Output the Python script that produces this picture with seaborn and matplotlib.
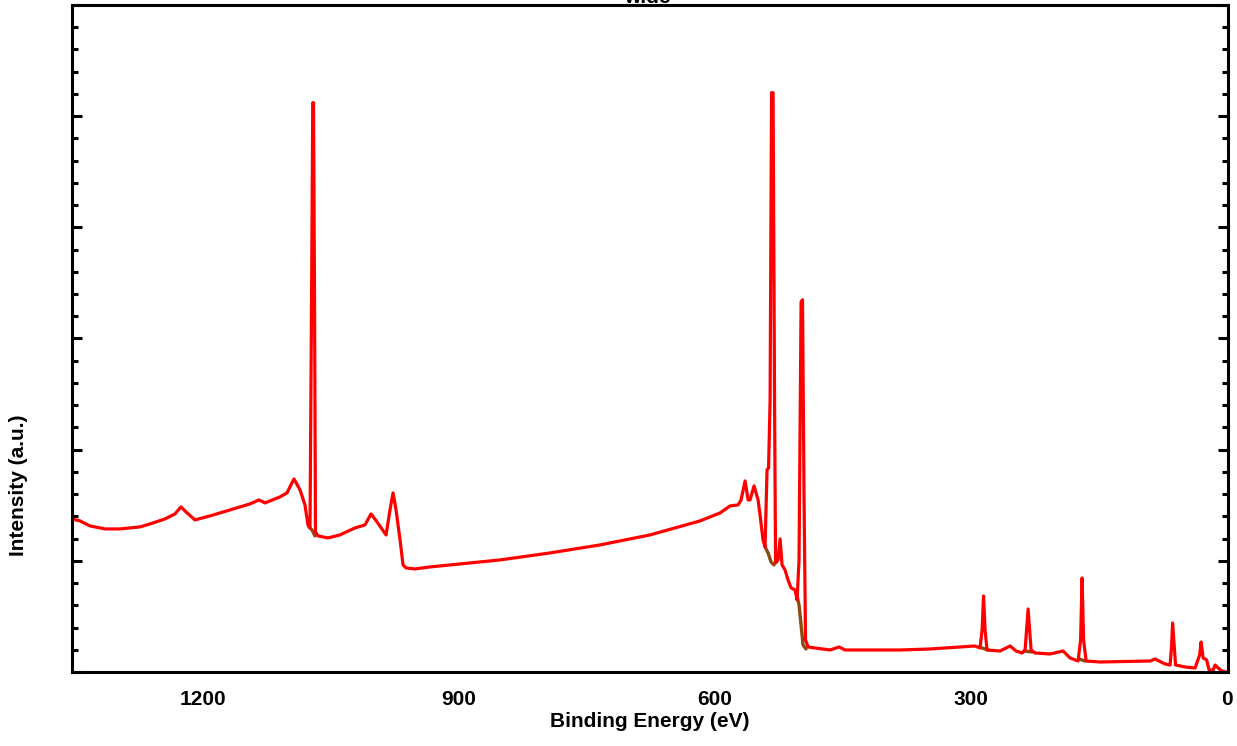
import matplotlib
matplotlib.use("Agg")
import matplotlib.pyplot as plt
import numpy as np
import pandas as pd
import seaborn as sns
from matplotlib.ticker import MultipleLocator, NullFormatter

sns.set_style("white")
plt.rcParams['font.family'] = ['Liberation Sans', 'DejaVu Sans']
plt.rcParams['text.color'] = 'black'
plt.rcParams['axes.labelcolor'] = 'black'
plt.rcParams['xtick.color'] = 'black'
plt.rcParams['ytick.color'] = 'black'

# espectro XPS (survey), leido a ojo de la figura
energy = [1353.5, 1344.1, 1332.4, 1314.8, 1297.3, 1273.8, 1262.1, 1244.5, 1232.8, 1225.8,
          1219.9, 1209.4, 1191.8, 1168.4, 1144.9, 1134.4, 1127.3, 1109.8, 1101.6, 1093.4,
          1086.3, 1080.5, 1077.0, 1074.6, 1072.8, 1071.4, 1070.5, 1069.3, 1068.2, 1065.2,
          1053.5, 1039.5, 1021.9, 1010.2, 1003.1, 996.1, 985.5, 980.9, 977.3, 973.8,
          969.1, 965.6, 962.1, 951.6, 934.0, 910.5, 852.0, 793.4, 734.8, 676.2,
          617.6, 594.1, 582.4, 573.0, 569.5, 564.8, 561.3, 559.0, 554.3, 549.6,
          547.3, 543.8, 541.4, 539.1, 537.3, 535.5, 533.8, 532.0, 530.3, 529.1,
          526.2, 523.8, 521.5, 518.0, 514.5, 510.9, 506.3, 503.9, 501.6, 499.2,
          497.5, 495.7, 494.0, 491.0, 482.8, 465.2, 454.7, 447.7, 418.4, 383.2,
          348.0, 312.9, 295.3, 289.5, 287.1, 285.4, 283.6, 281.3, 266.0, 254.3,
          247.3, 240.2, 236.7, 233.2, 229.7, 225.0, 207.4, 192.2, 184.0, 174.6,
          171.7, 169.9, 168.2, 165.2, 148.8, 90.2, 84.4, 72.7, 66.8, 65.0,
          63.9, 62.1, 60.4, 49.2, 37.5, 32.2, 30.5, 28.1, 24.0, 21.1,
          16.4, 14.1, 10.5, 5.9, 1.2]
intensity = [27540, 27180, 26280, 25740, 25740, 26100, 26640, 27540, 28440, 29700,
             28800, 27360, 28080, 29160, 30240, 30960, 30420, 31500, 32220, 34740,
             32760, 30060, 26460, 25920, 66960, 102420, 102420, 66960, 25200, 24480,
             24120, 24660, 25920, 26460, 28440, 27000, 24660, 29160, 32220, 29160,
             23760, 19260, 18720, 18540, 18900, 19260, 20160, 21420, 22860, 24660,
             27180, 28620, 29880, 30060, 30960, 34380, 30960, 30960, 33480, 30960,
             28260, 23760, 22500, 36360, 36720, 48960, 104220, 104220, 48960, 19620,
             20160, 23940, 19260, 18360, 16560, 15120, 14760, 12960, 20160, 66600,
             66960, 30960, 5760, 4500, 4320, 3960, 4500, 3960, 3960, 3960,
             4140, 4500, 4680, 4320, 7560, 13680, 7560, 3960, 3780, 4680,
             3780, 3420, 3960, 11340, 3960, 3420, 3240, 3780, 2520, 1980,
             5760, 16920, 5760, 1980, 1800, 1980, 2340, 1440, 1260, 4860,
             8820, 4860, 1260, 900, 720, 3060, 5400, 2520, 2160, 360,
             360, 1260, 720, 180, 0]

# fondos (Shirley) bajo los picos principales
bg_segments = [
    ([1075.8, 1072.3, 1068.8], [26100, 25560, 24480]),
    ([541.4, 537.9, 534.4, 530.9], [22500, 21420, 19800, 19260]),
    ([503.9, 501.6, 499.2, 496.9, 493.4], [13680, 12060, 8460, 4860, 4140]),
    ([290.6, 280.1], [4500, 3960]),
    ([237.9, 228.5], [3780, 3600]),
    ([173.4, 166.4], [2340, 1980]),
]

df = pd.DataFrame({'E': energy, 'I': intensity})

fig = plt.figure(figsize=(12.37, 7.46), dpi=100)
ax = fig.add_axes([0.0582, 0.0992, 0.9345, 0.8941])

for be, bi in bg_segments:
    sns.lineplot(x=be, y=bi, ax=ax, color='#8b4a0f', linewidth=2.4, sort=False,
                 estimator=None)
sns.lineplot(data=df, x='E', y='I', ax=ax, color='#ff0000', linewidth=2.3,
             sort=False, estimator=None)

ax.set_xlim(1353.5, -1)
ax.set_ylim(0, 120000)

ax.xaxis.set_major_locator(MultipleLocator(300))
ax.xaxis.set_minor_locator(MultipleLocator(100))
ax.yaxis.set_major_locator(MultipleLocator(20000))
ax.yaxis.set_minor_locator(MultipleLocator(4000))
ax.yaxis.set_major_formatter(NullFormatter())

ax.tick_params(axis='x', which='major', direction='out', length=9, width=2.2,
               labelsize=15, pad=4, top=False)
ax.tick_params(axis='x', which='minor', direction='out', length=6, width=2.2, top=False)
ax.tick_params(axis='y', which='major', direction='in', length=7, width=2.2,
               left=True, right=True, labelleft=False)
ax.tick_params(axis='y', which='minor', direction='in', length=4, width=2.2,
               left=True, right=True)
for lab in ax.get_xticklabels():
    lab.set_fontweight('bold')

for s in ax.spines.values():
    s.set_linewidth(2.2)
    s.set_color('black')

ax.set_xlabel('Binding Energy (eV)', fontsize=15, fontweight='bold', labelpad=2)
ax.set_ylabel('')
fig.text(0.0146, 0.35, 'Intensity (a.u.)', rotation=90, fontsize=15,
         fontweight='bold', ha='center', va='center')
fig.text(0.523, 0.996, 'wide', fontsize=15, fontweight='bold', ha='center',
         va='baseline')

fig.savefig('out.png', dpi=100)
